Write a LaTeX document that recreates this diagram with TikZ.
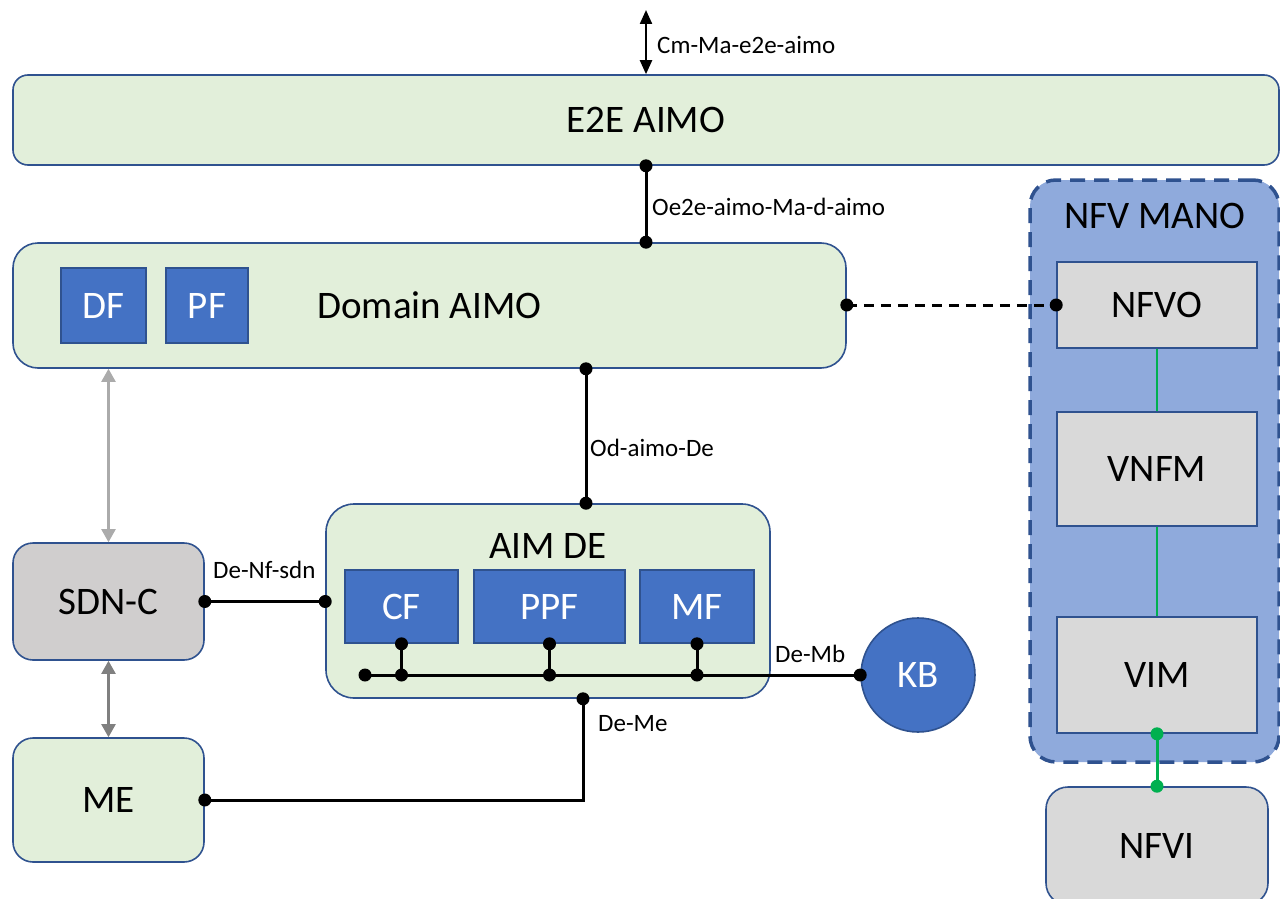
\documentclass[tikz,border=0pt]{standalone}
\usepackage{fontspec}
\setmainfont{Carlito}
\usetikzlibrary{arrows.meta}
\definecolor{gfill}{HTML}{E2EFDA}
\definecolor{bord}{HTML}{2F528F}
\definecolor{bfill}{HTML}{4472C4}
\definecolor{grayA}{HTML}{D0CECE}
\definecolor{grayB}{HTML}{D9D9D9}
\definecolor{manofill}{HTML}{8FAADC}
\definecolor{lgreen}{HTML}{00B050}
\definecolor{arrlight}{HTML}{ABABAB}
\definecolor{arrdark}{HTML}{808080}
\begin{document}
\begin{tikzpicture}[x=1pt,y=-1pt,
  box/.style={draw=bord,line width=1.6pt,inner sep=0pt,font=\fontsize{39}{47}\selectfont},
  gbox/.style={box,fill=gfill},
  bbox/.style={box,fill=bfill,text=white},
  graybox/.style={box,fill=grayB},
  lbl/.style={anchor=west,inner sep=0pt,font=\fontsize{25}{30}\selectfont},
  bigtxt/.style={inner sep=0pt,font=\fontsize{39}{47}\selectfont},
  conn/.style={line width=3pt,black},
  jdot/.style={circle,fill=black,inner sep=0pt,minimum size=13pt},
  gdot/.style={circle,fill=lgreen,inner sep=0pt,minimum size=13pt},
  garr/.style={line width=2.2pt,{Triangle[length=13pt,width=14pt]}-{Triangle[length=13pt,width=14pt]}}
]
\useasboundingbox (0,0) rectangle (1280,899);

% NFV MANO container
\node[draw=bord,fill=manofill,line width=3.5pt,dash pattern=on 15pt off 9pt,rounded corners=26pt,
      minimum width=249pt,minimum height=582pt,inner sep=0pt] (mano) at (1154.5,471) {};
\node[bigtxt] (manotxt) at (1155,216) {NFV MANO};
\node[graybox,minimum width=200pt,minimum height=86pt] (nfvo) at (1157,305) {NFVO};
\node[graybox,minimum width=200pt,minimum height=114pt] (vnfm) at (1157,469) {VNFM};
\node[graybox,minimum width=200pt,minimum height=116pt] (vim) at (1157,675) {VIM};
\node[graybox,rounded corners=22pt,minimum width=222pt,minimum height=118pt] (nfvi) at (1157,846) {NFVI};

% Main boxes
\node[gbox,rounded corners=15pt,minimum width=1266pt,minimum height=90pt] (e2e) at (646,120) {E2E AIMO};
\node[gbox,rounded corners=25pt,minimum width=833pt,minimum height=125pt] (dom) at (429.5,305.5) {Domain AIMO};
\node[bbox,minimum width=85pt,minimum height=75pt] (df) at (103.5,305.5) {DF};
\node[bbox,minimum width=82pt,minimum height=75pt] (pf) at (207,305.5) {PF};

\node[gbox,rounded corners=28pt,minimum width=444pt,minimum height=194pt] (aimde) at (548,601) {};
\node[bigtxt] (aimdetxt) at (548,546) {AIM DE};
\node[bbox,minimum width=113pt,minimum height=73pt] (cf) at (401.5,606.5) {CF};
\node[bbox,minimum width=151pt,minimum height=73pt] (ppf) at (549.5,606.5) {PPF};
\node[bbox,minimum width=114pt,minimum height=73pt] (mf) at (697,606.5) {MF};

\node[box,circle,fill=bfill,text=white,minimum size=114pt] (kb) at (918,675) {KB};

\node[box,fill=grayA,rounded corners=20pt,minimum width=191pt,minimum height=117pt] (sdn) at (108.5,601.5) {SDN-C};
\node[gbox,rounded corners=20pt,minimum width=191pt,minimum height=124pt] (me) at (108.5,800) {ME};

% coordinates
\coordinate (topend) at (646,10);
\coordinate (cx) at (646,0);
\coordinate (dx) at (586,0);
\coordinate (mex) at (583,0);
\coordinate (busL) at (365,675);

% top arrow
\draw[line width=2.2pt,{Triangle[length=14pt,width=12pt]}-{Triangle[length=14pt,width=12pt]}] (topend) -- (e2e.north -| topend);
\node[lbl] (l1) at (657,45) {Cm-Ma-e2e-aimo};

% E2E - Domain
\draw[conn] (e2e.south -| cx) -- (dom.north -| cx);
\node[jdot] at (e2e.south -| cx) {};
\node[jdot] at (dom.north -| cx) {};
\node[lbl] (l2) at (652,207) {Oe2e-aimo-Ma-d-aimo};

% Domain - AIM DE
\draw[conn] (dom.south -| dx) -- (aimde.north -| dx);
\node[jdot] at (dom.south -| dx) {};
\node[jdot] at (aimde.north -| dx) {};
\node[lbl] (l3) at (590,448) {Od-aimo-De};

% Domain - NFVO dashed
\draw[conn,dash pattern=on 10pt off 7pt] (nfvo.west -| dom.east) -- (nfvo.west);
\node[jdot] at (nfvo.west -| dom.east) {};
\node[jdot] at (nfvo.west) {};

% green links
\draw[lgreen,line width=1.6pt] (nfvo.south) -- (vnfm.north);
\draw[lgreen,line width=1.6pt] (vnfm.south) -- (vim.north);
\draw[lgreen,line width=3pt] (vim.south) -- (nfvi.north);
\node[gdot] at (vim.south) {};
\node[gdot] at (nfvi.north) {};

% SDN-C - AIM DE
\draw[conn] (sdn.east) -- (sdn.east -| aimde.west);
\node[jdot] at (sdn.east) {};
\node[jdot] at (sdn.east -| aimde.west) {};
\node[lbl] (l4) at (213,570) {De-Nf-sdn};

% gray arrows
\draw[garr,arrlight] (dom.south -| sdn.north) -- (sdn.north);
\draw[garr,arrdark] (sdn.south) -- (me.north);

% ME - AIM DE
\draw[conn] (me.east) -| (aimde.south -| mex);
\node[jdot] at (me.east) {};
\node[jdot] at (aimde.south -| mex) {};
\node[lbl] (l5) at (598,724) {De-Me};

% bus
\draw[conn] (busL) -- (kb.west);
\draw[conn] (cf.south) -- (cf.south |- busL);
\draw[conn] (ppf.south) -- (ppf.south |- busL);
\draw[conn] (mf.south) -- (mf.south |- busL);
\node[jdot] at (busL) {};
\node[jdot] at (cf.south) {};
\node[jdot] at (ppf.south) {};
\node[jdot] at (mf.south) {};
\node[jdot] at (cf.south |- busL) {};
\node[jdot] at (ppf.south |- busL) {};
\node[jdot] at (mf.south |- busL) {};
\node[jdot] at (kb.west) {};
\node[lbl] (l6) at (775,654) {De-Mb};
\end{tikzpicture}
\end{document}
